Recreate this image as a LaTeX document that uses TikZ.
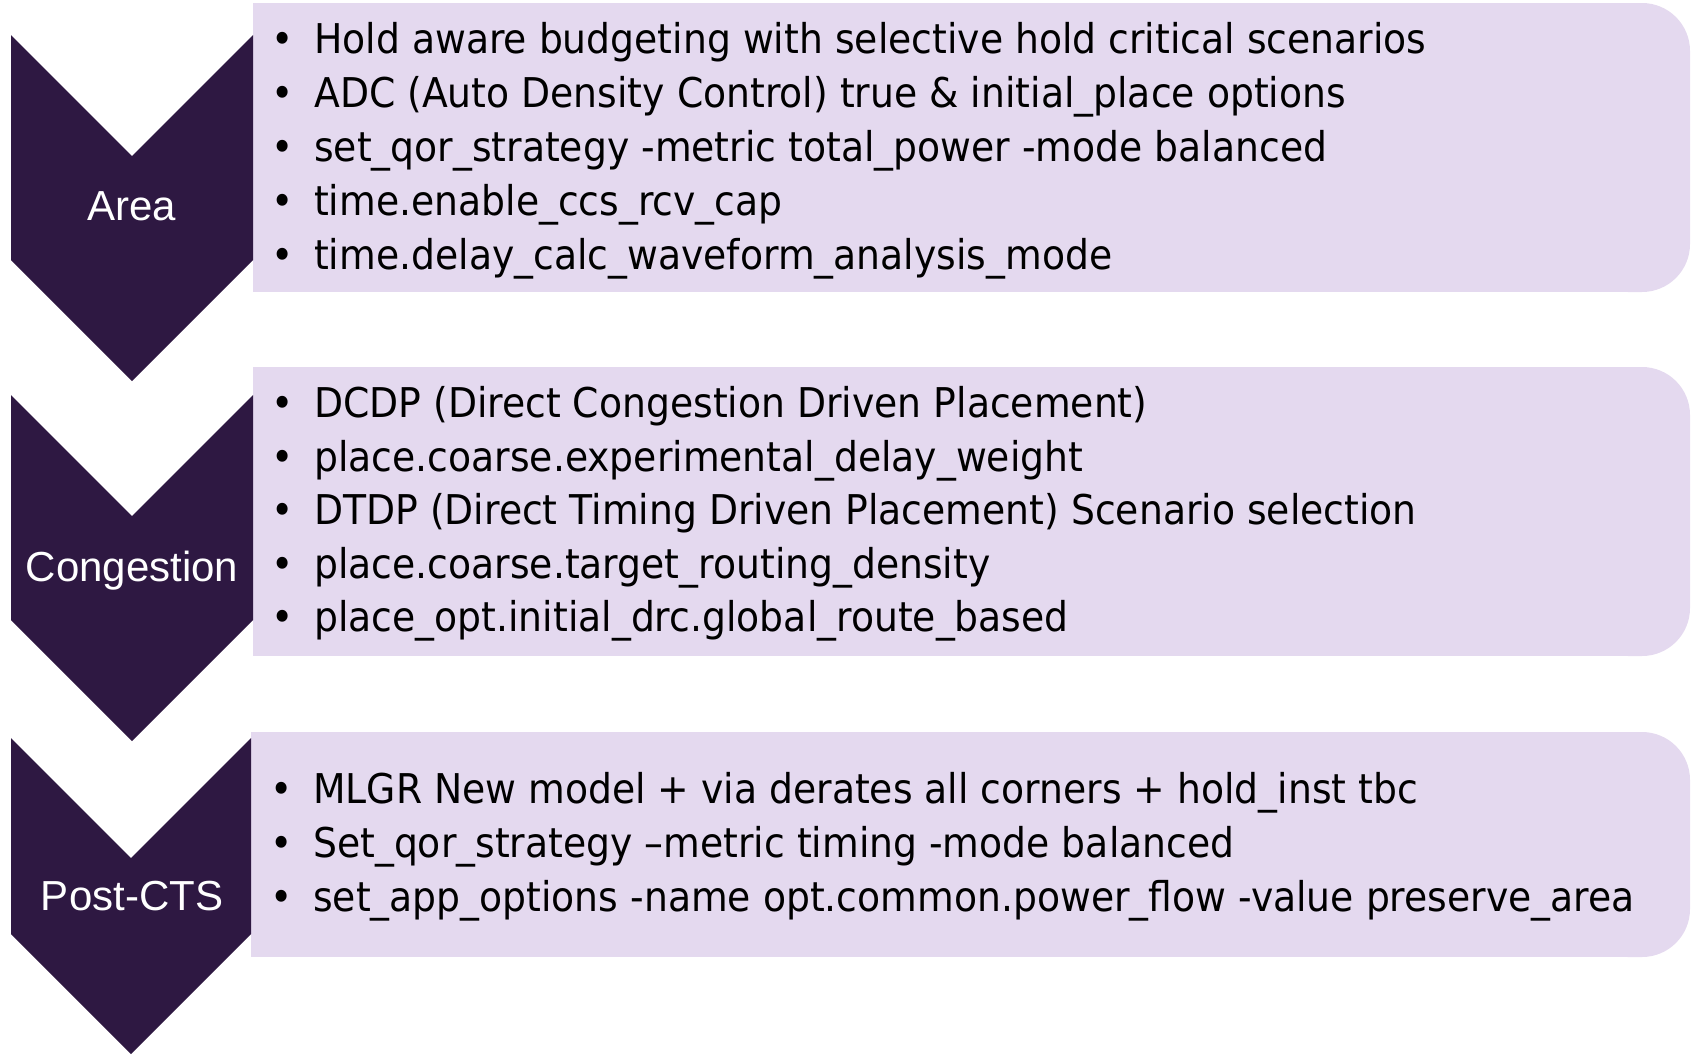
\documentclass[tikz,border=0pt]{standalone}
\usepackage{fontspec}
\newfontfamily\itemfamily[FakeStretch=0.92]{DejaVu Sans}
\newfontfamily\labelfamily{Liberation Sans}
\definecolor{chev}{RGB}{46,24,66}
\definecolor{boxfill}{RGB}{228,217,239}
\tikzset{
  itemtext/.style={anchor=base west, inner sep=0pt, text=black,
    font=\itemfamily\fontsize{41}{49}\selectfont},
  chevlabel/.style={anchor=base, inner sep=0pt, text=white,
    font=\labelfamily\fontsize{42}{50}\selectfont},
  chevshape/.style={fill=chev},
  panel/.style={fill=boxfill}
}
\newcommand{\bul}{\makebox[43pt][l]{•}}
\begin{document}
\begin{tikzpicture}[x=1pt,y=-1pt]
\useasboundingbox (0,0) rectangle (1691,1055);
% panels
\fill[panel] (253,3) rectangle (1640,292);
\fill[panel, rounded corners=48pt] (1580,3) rectangle (1690,292);
\fill[panel] (253,367) rectangle (1640,656);
\fill[panel, rounded corners=48pt] (1580,367) rectangle (1690,656);
\fill[panel] (251,732) rectangle (1640,957);
\fill[panel, rounded corners=48pt] (1580,732) rectangle (1690,957);
% chevrons
\fill[chevshape] (11,35) -- (132,156) -- (253,35) -- (253,260) -- (132,381) -- (11,260) -- cycle;
\fill[chevshape] (11,395) -- (132,516) -- (253,395) -- (253,620) -- (132,741) -- (11,620) -- cycle;
\fill[chevshape] (11,738) -- (131,858) -- (251,738) -- (251,934) -- (131,1054) -- (11,934) -- cycle;
% labels
\node[chevlabel] (area) at (132,220) {Area};
\node[chevlabel] (cong) at (132,581) {Congestion};
\node[chevlabel] (post) at (132,910) {Post-CTS};
% items
\node[itemtext] (a1) at (271,53) {\bul Hold aware budgeting with selective hold critical scenarios};
\node[itemtext] (a2) at (271,107) {\bul ADC (Auto Density Control) true \& initial\_place options};
\node[itemtext] (a3) at (271,161) {\bul set\_qor\_strategy -metric total\_power -mode balanced};
\node[itemtext] (a4) at (271,215) {\bul time.enable\_ccs\_rcv\_cap};
\node[itemtext] (a5) at (271,269) {\bul time.delay\_calc\_waveform\_analysis\_mode};
\node[itemtext] (c1) at (271,417) {\bul DCDP (Direct Congestion Driven Placement)};
\node[itemtext] (c2) at (271,471) {\bul place.coarse.experimental\_delay\_weight};
\node[itemtext] (c3) at (271,524) {\bul DTDP (Direct Timing Driven Placement) Scenario selection};
\node[itemtext] (c4) at (271,578) {\bul place.coarse.target\_routing\_density};
\node[itemtext] (c5) at (271,631) {\bul place\_opt.initial\_drc.global\_route\_based};
\node[itemtext] (p1) at (270,803) {\bul MLGR New model + via derates all corners + hold\_inst tbc};
\node[itemtext] (p2) at (270,857) {\bul Set\_qor\_strategy –metric timing -mode balanced};
\node[itemtext] (p3) at (270,911) {\bul set\_app\_options -name opt.common.power\_flow -value preserve\_area};
\end{tikzpicture}
\end{document}
